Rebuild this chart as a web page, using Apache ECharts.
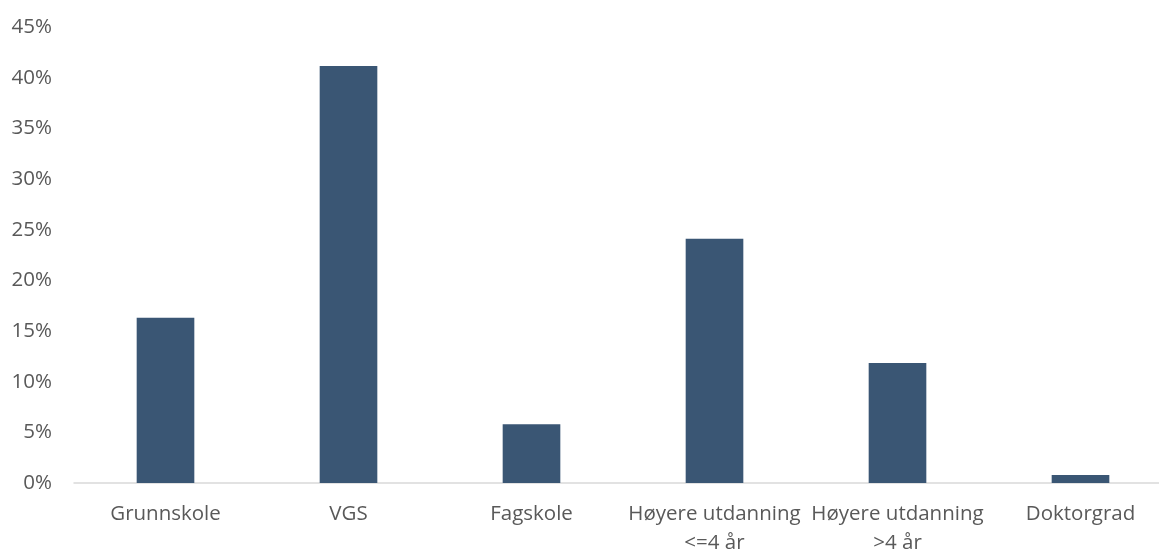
<!DOCTYPE html>
<html>
<head>
    <meta charset="utf-8">
    <script src="https://cdn.jsdelivr.net/npm/echarts@6/dist/echarts.min.js"></script>
    <style>
        body { margin: 0; background: #fff; }
    </style>
</head>
<body>
    <div id="main" style="width: 1159px;height:552px;"></div>
    <script type="text/javascript">
        var myChart = echarts.init(document.getElementById('main'));

        // kategorier og andeler (prosent)
        var categories = ['Grunnskole', 'VGS', 'Fagskole', 'Høyere utdanning\n<=4 år', 'Høyere utdanning\n>4 år', 'Doktorgrad'];
        var values = [16.3, 41.15, 5.8, 24.1, 11.85, 0.8];
        var yTicks = [0, 5, 10, 15, 20, 25, 30, 35, 40, 45];

        var option = {
            animation: false,
            grid: {
                left: 74,
                right: -13,
                top: 27,
                bottom: 69,
                outerBoundsMode: 'none'
            },
            xAxis: {
                type: 'category',
                data: categories,
                axisLine: {
                    lineStyle: { color: '#d9d9d9', width: 1.5 }
                },
                axisTick: { show: false },
                axisLabel: {
                    interval: 0,
                    margin: 17,
                    fontFamily: 'Open Sans',
                    fontSize: 20.5,
                    lineHeight: 29,
                    color: '#595959'
                }
            },
            yAxis: {
                type: 'value',
                min: yTicks[0],
                max: yTicks[yTicks.length - 1],
                interval: 5,
                splitLine: { show: false },
                axisLine: { show: false },
                axisTick: { show: false },
                axisLabel: {
                    margin: 22,
                    fontFamily: 'Open Sans',
                    fontSize: 20.5,
                    color: '#595959',
                    formatter: '{value}%'
                }
            },
            series: [
                {
                    type: 'bar',
                    data: values,
                    barWidth: '31.5%',
                    itemStyle: { color: '#3a5674' }
                }
            ]
        };

        myChart.setOption(option);
    </script>
</body>
</html>
